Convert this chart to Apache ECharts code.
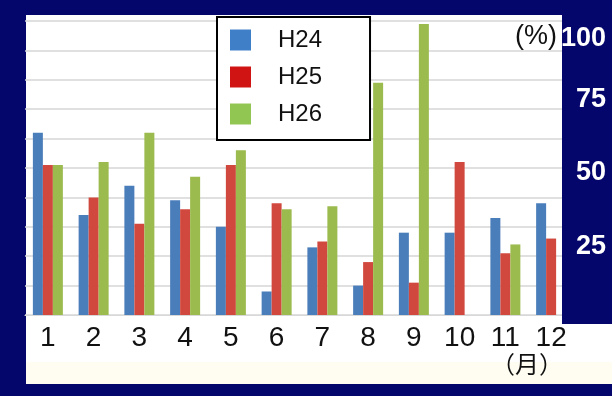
<!DOCTYPE html>
<html>
<head>
<meta charset="utf-8">
<script src="https://cdn.jsdelivr.net/npm/echarts@6/dist/echarts.min.js"></script>
<style>
  html, body { margin: 0; padding: 0; background: #05066b; }
  #chart { width: 612px; height: 396px; }
</style>
</head>
<body>
<div id="chart"></div>
<script>
// Monthly percentages for three fiscal years
const months = ['1', '2', '3', '4', '5', '6', '7', '8', '9', '10', '11', '12'];
const seriesNames = ['H24', 'H25', 'H26'];
const h24 = [62, 34, 44, 39, 30, 8, 23, 10, 28, 28, 33, 38];
const h25 = [51, 40, 31, 36, 51, 38, 25, 18, 11, 52, 21, 26];
const h26 = [51, 52, 62, 47, 56, 36, 37, 79, 99, null, 24, null];
const yLabelTicks = [25, 50, 75, 100];

const NAVY = '#05066b';
const barColors = ['#4a7ebb', '#d0483e', '#9bbb4e'];
const legendColors = ['#3f7fc8', '#d01414', '#92c653'];

const chart = echarts.init(document.getElementById('chart'), null, { renderer: 'canvas' });

const makeBar = (name, data, i) => ({
  name: name,
  type: 'bar',
  data: data,
  yAxisIndex: 0,
  barWidth: 10,
  barGap: '0%',
  itemStyle: { color: barColors[i] },
  emphasis: { disabled: true },
  z: 2
});

chart.setOption({
  backgroundColor: NAVY,
  animation: false,
  grid: { left: 25, right: 38, top: 21, bottom: 81, containLabel: false },
  legend: {
    orient: 'vertical',
    left: 217,
    top: 17,
    backgroundColor: '#ffffff',
    borderColor: '#000000',
    borderWidth: 2,
    borderRadius: 0,
    padding: [11, 48, 14, 13],
    itemWidth: 21,
    itemHeight: 21,
    itemGap: 13,
    icon: 'rect',
    selectedMode: false,
    data: seriesNames.map((n, i) => ({ name: n, itemStyle: { color: legendColors[i] } })),
    textStyle: {
      fontFamily: 'Liberation Sans',
      fontSize: 24,
      color: '#111111',
      padding: [0, 0, 0, 22]
    }
  },
  xAxis: {
    type: 'category',
    data: months,
    axisLine: { show: true, lineStyle: { color: '#d8d8d8', width: 1 } },
    axisTick: { show: false },
    axisLabel: {
      interval: 0,
      margin: 9,
      fontFamily: 'Liberation Sans',
      fontSize: 28,
      color: '#111111'
    }
  },
  yAxis: [
    {
      type: 'value',
      position: 'right',
      min: 0,
      max: 100,
      interval: 10,
      axisLine: { show: false },
      axisTick: { show: false },
      axisLabel: { show: false },
      splitLine: { show: true, lineStyle: { color: '#d6d6d6', width: 1.5 } }
    },
    {
      type: 'value',
      position: 'right',
      min: 0,
      max: 100,
      interval: 25,
      z: 100,
      axisLine: { show: false },
      axisTick: { show: false },
      splitLine: { show: false },
      axisLabel: {
        show: true,
        align: 'right',
        margin: 32,
        formatter: v => yLabelTicks.indexOf(v) < 0 ? '' : (v === 100 ? '{t|' + v + '}' : '{n|' + v + '}'),
        rich: {
          t: { fontFamily: 'Liberation Sans', fontWeight: 'bold', fontSize: 27, color: '#ffffff', padding: [36, 0, 0, 0] },
          n: { fontFamily: 'Liberation Sans', fontWeight: 'bold', fontSize: 27, color: '#ffffff', padding: [10, 0, 0, 0] }
        }
      }
    }
  ],
  graphic: [
    { type: 'rect', z: -10, silent: true, shape: { x: 26, y: 15, width: 586, height: 369 }, style: { fill: '#ffffff' } },
    { type: 'rect', z: -9, silent: true, shape: { x: 26, y: 362, width: 586, height: 22 }, style: { fill: '#fffdf1' } },
    { type: 'rect', z: 50, silent: true, shape: { x: 562, y: 0, width: 50, height: 324 }, style: { fill: NAVY } },
    {
      type: 'text', z: 60, silent: true, x: 515, y: 37,
      style: { text: '(%)', fontFamily: 'Liberation Sans', fontSize: 27, fill: '#111111', verticalAlign: 'middle', align: 'left' }
    },
    {
      type: 'text', z: 60, silent: true, x: 491, y: 364,
      style: { text: '（月）', fontFamily: 'Noto Sans CJK JP', fontSize: 24, fill: '#111111', verticalAlign: 'middle', align: 'left' }
    }
  ],
  series: [
    makeBar(seriesNames[0], h24, 0),
    makeBar(seriesNames[1], h25, 1),
    makeBar(seriesNames[2], h26, 2)
  ]
});
</script>
</body>
</html>
